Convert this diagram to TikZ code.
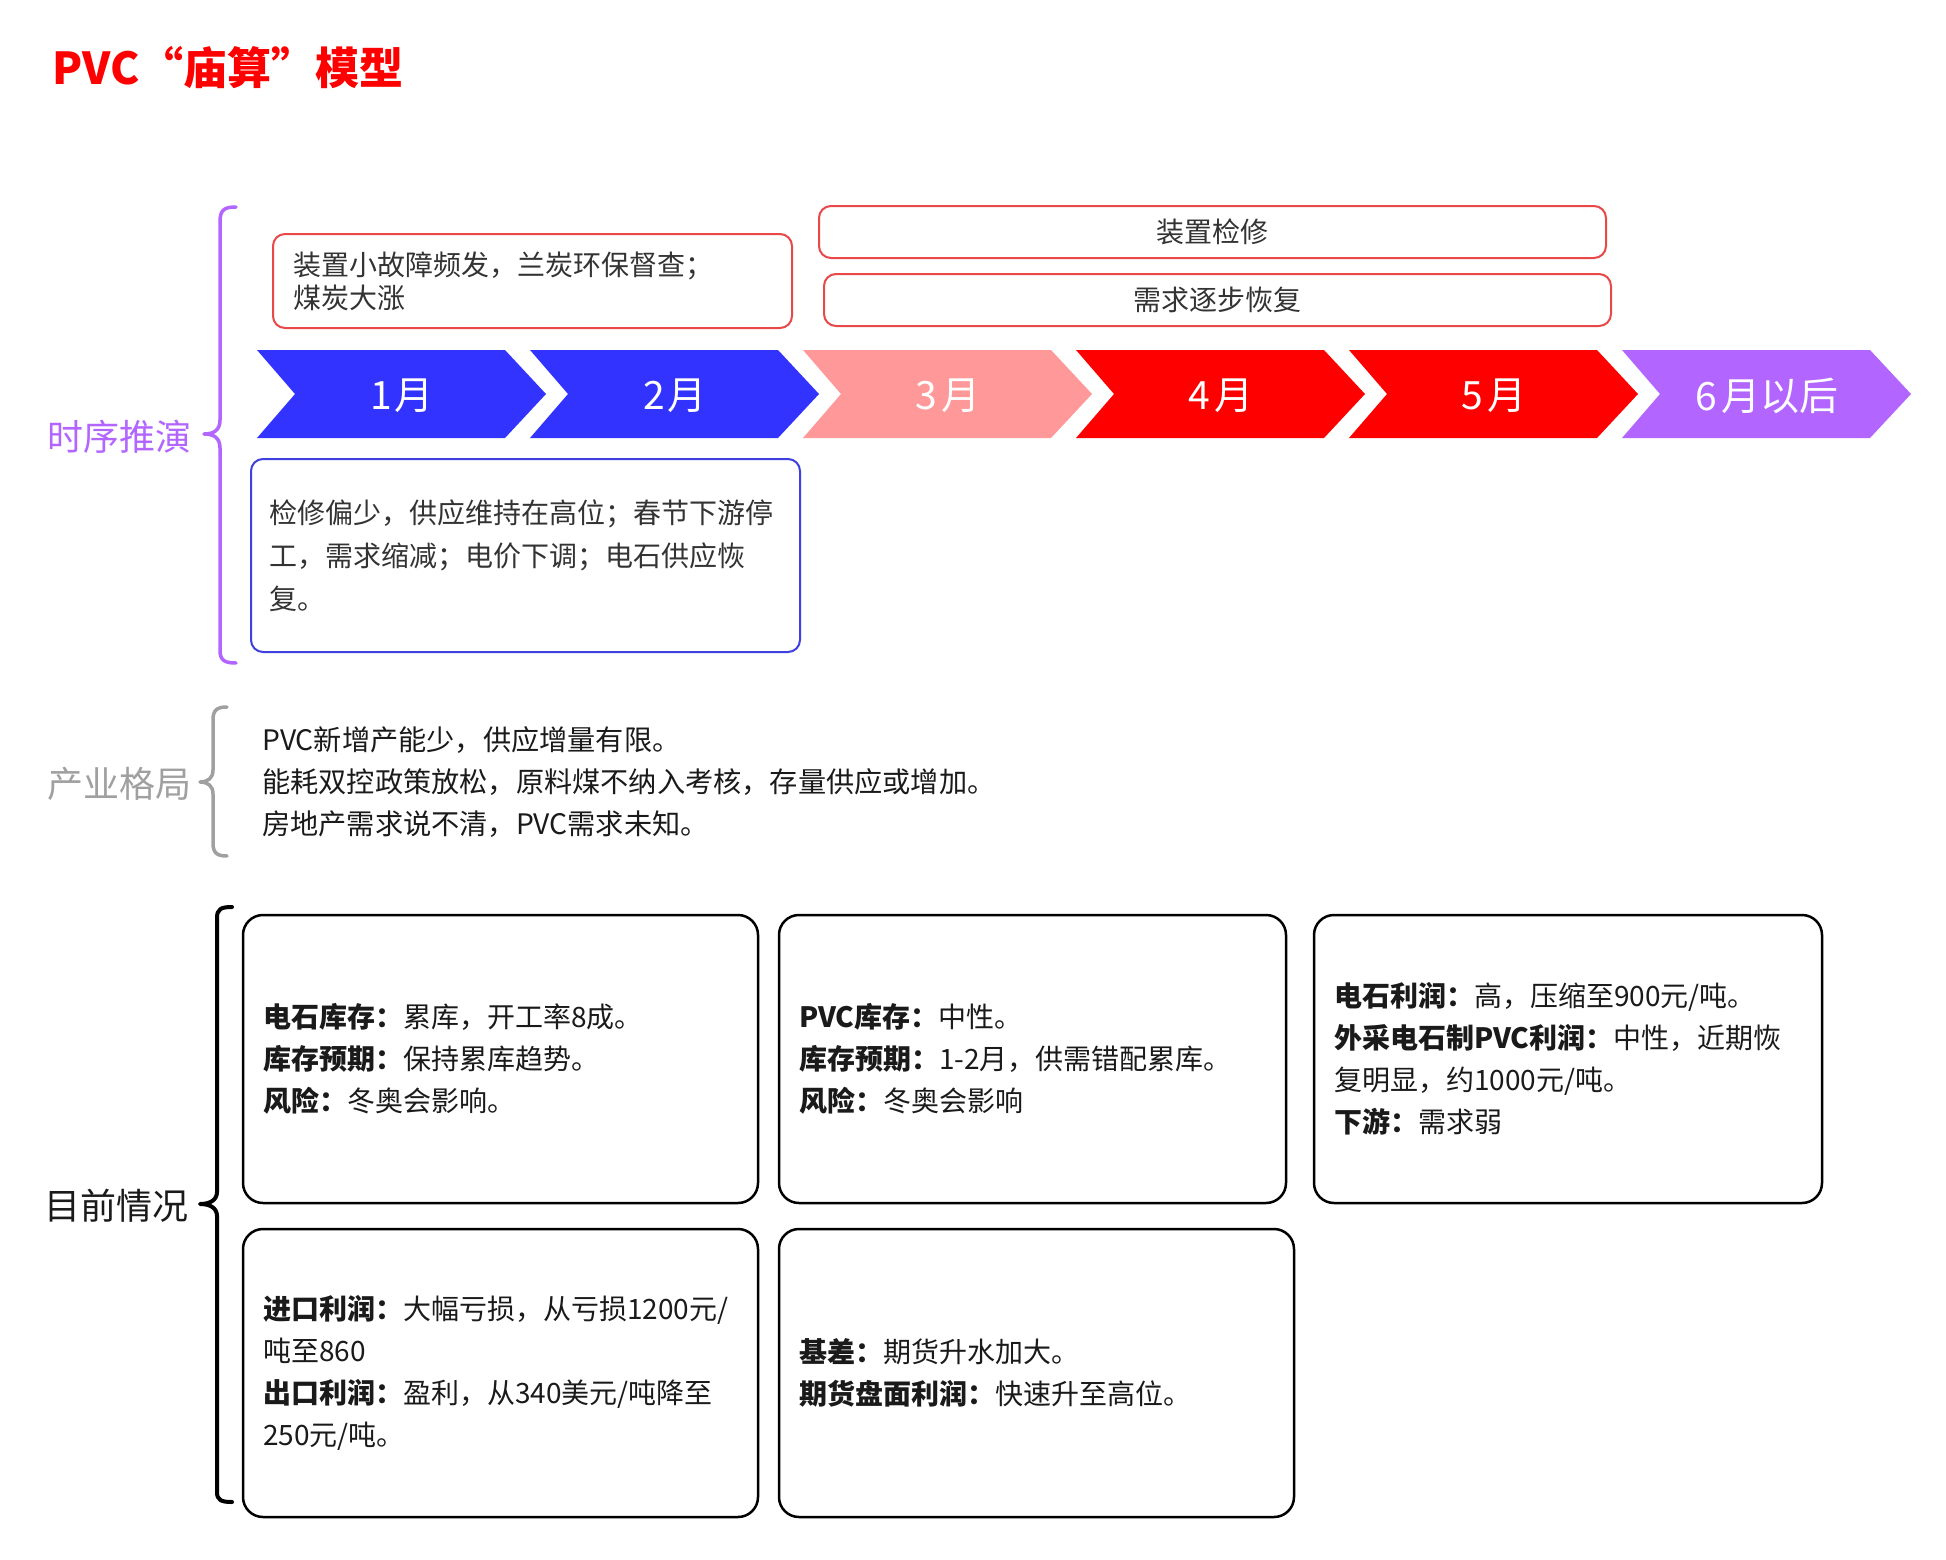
\documentclass[tikz,border=0pt]{standalone}
\usepackage{fontspec}
\setmainfont{Noto Sans CJK SC}
\definecolor{cblue}{HTML}{3333FF}
\definecolor{cpink}{HTML}{FF9999}
\definecolor{cred}{HTML}{FF0000}
\definecolor{cpurple}{HTML}{B266FF}
\definecolor{boxred}{HTML}{E84848}
\definecolor{boxblue}{HTML}{4040E0}
\definecolor{txtgray}{HTML}{333333}
\definecolor{txtdark}{HTML}{1A1A1A}
\definecolor{lblgray}{HTML}{A0A0A0}
\begin{document}
\begin{tikzpicture}[x=1pt,y=-1pt,
  redbox/.style={draw=boxred, line width=2pt, rounded corners=12pt, inner sep=0pt, text=txtgray, font=\fontsize{28}{33}\selectfont},
  bluebox/.style={draw=boxblue, line width=2pt, rounded corners=12pt, inner ysep=0pt, text=txtgray, font=\fontsize{28}{43}\selectfont, align=left},
  gridbox/.style={draw=black, line width=2.5pt, rounded corners=20pt, inner ysep=0pt, inner xsep=20pt, minimum height=288pt, text=txtdark, font=\fontsize{28}{42}\selectfont, align=left},
  sidelabel/.style={font=\fontsize{36}{40}\selectfont, anchor=east, inner sep=0pt},
  monthlabel/.style={text=white, font=\fontsize{39}{42}\selectfont, inner sep=0pt},
  linetext/.style={text=txtdark, font=\fontsize{28.2}{42}\selectfont, anchor=west, inner sep=0pt},
  bracket/.style={line width=3.5pt, line cap=round, line join=round}
]
\useasboundingbox (0,0) rectangle (1946,1560);
\fill[white] (0,0) rectangle (1946,1560);

% title
\node[anchor=west, inner sep=0pt, text=cred, font=\fontsize{44}{48}\selectfont\bfseries] (title) at (52,68) {PVC“庙算”模型};

% ---- section 1: 时序推演
\draw[bracket, cpurple] (236,207) .. controls (224,207) and (220,210) .. (220,222) -- (220,420)
  .. controls (220,430) and (214,434) .. (204,434) .. controls (214,434) and (220,438) .. (220,448)
  -- (220,650) .. controls (220,660) and (224,663) .. (236,663);
\node[sidelabel, text=cpurple] (lab1) at (192,437) {时序推演};

\node[redbox, minimum width=519pt, minimum height=94pt, text width=479pt, inner xsep=20pt, align=left] (boxA) at (532.5,281)
  {装置小故障频发，兰炭环保督查；\\煤炭大涨};
\node[redbox, minimum width=787pt, minimum height=52pt] (boxJX) at (1212.5,232) {装置检修};
\node[redbox, minimum width=787pt, minimum height=52pt] (boxXQ) at (1217.5,300) {需求逐步恢复};

\foreach \i/\c/\t in {0/cblue/1\hspace{3pt}月, 1/cblue/2\hspace{3pt}月, 2/cpink/3\hspace{5pt}月, 3/cred/4\hspace{5pt}月, 4/cred/5\hspace{5pt}月, 5/cpurple/6\hspace{5pt}月以后} {
  \pgfmathsetmacro\L{257+273*\i}
  \fill[\c] (\L,350) -- (\L+248,350) -- (\L+289,394) -- (\L+248,438) -- (\L,438) -- (\L+38,394) -- cycle;
  \node[monthlabel] (m\i) at (\L+145,396) {\t};
}

\node[bluebox, minimum width=549pt, minimum height=193pt, text width=513pt, inner xsep=18pt] (boxB) at (525.5,555.5)
  {检修偏少，供应维持在高位；春节下游停\\工，需求缩减；电价下调；电石供应恢\\复。};

% ---- section 2: 产业格局
\draw[bracket, lblgray] (227,707) .. controls (217,707) and (213,710) .. (213,720) -- (213,770)
  .. controls (213,778) and (208,782) .. (200,782) .. controls (208,782) and (213,786) .. (213,794)
  -- (213,843) .. controls (213,853) and (217,856) .. (227,856);
\node[sidelabel, text=lblgray] (lab2) at (192,784) {产业格局};
\node[linetext] (l1) at (262,740) {PVC新增产能少，供应增量有限。};
\node[linetext] (l2) at (262,782) {能耗双控政策放松，原料煤不纳入考核，存量供应或增加。};
\node[linetext] (l3) at (262,824) {房地产需求说不清，PVC需求未知。};

% ---- section 3: 目前情况
\draw[bracket, black, line width=4pt] (232,907) .. controls (221,907) and (217,909) .. (217,918) -- (217,1192)
  .. controls (217,1200) and (210,1204) .. (200,1204) .. controls (210,1204) and (217,1208) .. (217,1216)
  -- (217,1492) .. controls (217,1500) and (221,1502) .. (232,1502);
\node[sidelabel, text=txtdark] (lab3) at (189,1206) {目前情况};

\node[gridbox, minimum width=515pt, text width=475pt] (g1) at (500.5,1059)
  {\textbf{电石库存：}累库，开工率8成。\\\textbf{库存预期：}保持累库趋势。\\\textbf{风险：}冬奥会影响。};
\node[gridbox, minimum width=507pt, text width=467pt] (g2) at (1032.5,1059)
  {\textbf{PVC库存：}中性。\\\textbf{库存预期：}1-2月，供需错配累库。\\\textbf{风险：}冬奥会影响};
\node[gridbox, minimum width=508pt, text width=468pt] (g3) at (1568,1059)
  {\textbf{电石利润：}高，压缩至900元/吨。\\\textbf{外采电石制PVC利润：}中性，近期恢\\复明显，约1000元/吨。\\\textbf{下游：}需求弱};
\node[gridbox, minimum width=515pt, text width=475pt] (g4) at (500.5,1373)
  {\textbf{进口利润：}大幅亏损，从亏损1200元/\\吨至860\\\textbf{出口利润：}盈利，从340美元/吨降至\\250元/吨。};
\node[gridbox, minimum width=515pt, text width=475pt, inner xsep=19pt] (g5) at (1036.5,1373)
  {\textbf{基差：}期货升水加大。\\\textbf{期货盘面利润：}快速升至高位。};
\end{tikzpicture}
\end{document}
